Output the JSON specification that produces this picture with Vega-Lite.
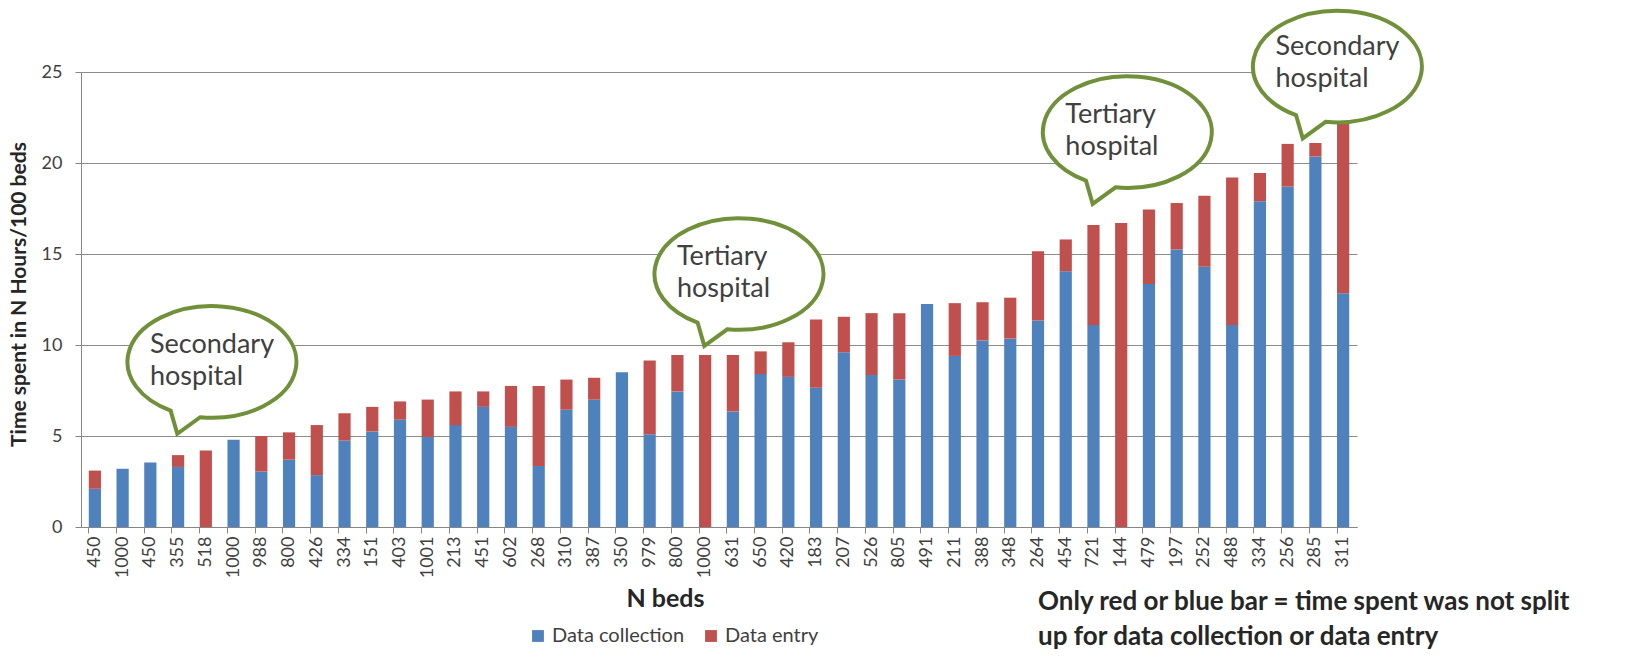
{
  "$schema": "https://vega.github.io/schema/vega-lite/v6.json",
  "width": 1276,
  "height": 455,
  "autosize": {"type": "none"},
  "padding": {"left": 81, "top": 72, "right": 268, "bottom": 130},
  "background": "white",
  "config": {
    "view": {"stroke": null},
    "font": "Lato",
    "legend": {"orient": "none", "legendX": 447, "legendY": 554, "direction": "horizontal", "labelFontSize": 20, "labelColor": "#404040", "symbolType": "square", "symbolSize": 140, "symbolStrokeWidth": 0, "columnPadding": 16, "labelFont": "Lato"}
  },
  "datasets": {
    "bars": [
      {"id": "01-450", "type": "Data collection", "hours": 2.1}, {"id": "01-450", "type": "Data entry", "hours": 1.0},
      {"id": "02-1000", "type": "Data collection", "hours": 3.2},
      {"id": "03-450", "type": "Data collection", "hours": 3.55},
      {"id": "04-355", "type": "Data collection", "hours": 3.3}, {"id": "04-355", "type": "Data entry", "hours": 0.65},
      {"id": "05-518", "type": "Data entry", "hours": 4.2},
      {"id": "06-1000", "type": "Data collection", "hours": 4.8},
      {"id": "07-988", "type": "Data collection", "hours": 3.05}, {"id": "07-988", "type": "Data entry", "hours": 1.95},
      {"id": "08-800", "type": "Data collection", "hours": 3.7}, {"id": "08-800", "type": "Data entry", "hours": 1.5},
      {"id": "09-426", "type": "Data collection", "hours": 2.85}, {"id": "09-426", "type": "Data entry", "hours": 2.75},
      {"id": "10-334", "type": "Data collection", "hours": 4.75}, {"id": "10-334", "type": "Data entry", "hours": 1.5},
      {"id": "11-151", "type": "Data collection", "hours": 5.25}, {"id": "11-151", "type": "Data entry", "hours": 1.35},
      {"id": "12-403", "type": "Data collection", "hours": 5.9}, {"id": "12-403", "type": "Data entry", "hours": 1.0},
      {"id": "13-1001", "type": "Data collection", "hours": 4.95}, {"id": "13-1001", "type": "Data entry", "hours": 2.05},
      {"id": "14-213", "type": "Data collection", "hours": 5.6}, {"id": "14-213", "type": "Data entry", "hours": 1.85},
      {"id": "15-451", "type": "Data collection", "hours": 6.6}, {"id": "15-451", "type": "Data entry", "hours": 0.85},
      {"id": "16-602", "type": "Data collection", "hours": 5.5}, {"id": "16-602", "type": "Data entry", "hours": 2.25},
      {"id": "17-268", "type": "Data collection", "hours": 3.35}, {"id": "17-268", "type": "Data entry", "hours": 4.4},
      {"id": "18-310", "type": "Data collection", "hours": 6.45}, {"id": "18-310", "type": "Data entry", "hours": 1.65},
      {"id": "19-387", "type": "Data collection", "hours": 7.0}, {"id": "19-387", "type": "Data entry", "hours": 1.2},
      {"id": "20-350", "type": "Data collection", "hours": 8.5},
      {"id": "21-979", "type": "Data collection", "hours": 5.1}, {"id": "21-979", "type": "Data entry", "hours": 4.05},
      {"id": "22-800", "type": "Data collection", "hours": 7.45}, {"id": "22-800", "type": "Data entry", "hours": 2.0},
      {"id": "23-1000", "type": "Data entry", "hours": 9.45},
      {"id": "24-631", "type": "Data collection", "hours": 6.35}, {"id": "24-631", "type": "Data entry", "hours": 3.1},
      {"id": "25-650", "type": "Data collection", "hours": 8.4}, {"id": "25-650", "type": "Data entry", "hours": 1.25},
      {"id": "26-420", "type": "Data collection", "hours": 8.25}, {"id": "26-420", "type": "Data entry", "hours": 1.9},
      {"id": "27-183", "type": "Data collection", "hours": 7.65}, {"id": "27-183", "type": "Data entry", "hours": 3.75},
      {"id": "28-207", "type": "Data collection", "hours": 9.6}, {"id": "28-207", "type": "Data entry", "hours": 1.95},
      {"id": "29-526", "type": "Data collection", "hours": 8.35}, {"id": "29-526", "type": "Data entry", "hours": 3.4},
      {"id": "30-805", "type": "Data collection", "hours": 8.1}, {"id": "30-805", "type": "Data entry", "hours": 3.65},
      {"id": "31-491", "type": "Data collection", "hours": 12.25},
      {"id": "32-211", "type": "Data collection", "hours": 9.4}, {"id": "32-211", "type": "Data entry", "hours": 2.9},
      {"id": "33-388", "type": "Data collection", "hours": 10.25}, {"id": "33-388", "type": "Data entry", "hours": 2.1},
      {"id": "34-348", "type": "Data collection", "hours": 10.35}, {"id": "34-348", "type": "Data entry", "hours": 2.25},
      {"id": "35-264", "type": "Data collection", "hours": 11.35}, {"id": "35-264", "type": "Data entry", "hours": 3.8},
      {"id": "36-454", "type": "Data collection", "hours": 14.05}, {"id": "36-454", "type": "Data entry", "hours": 1.75},
      {"id": "37-721", "type": "Data collection", "hours": 11.1}, {"id": "37-721", "type": "Data entry", "hours": 5.5},
      {"id": "38-144", "type": "Data entry", "hours": 16.7},
      {"id": "39-479", "type": "Data collection", "hours": 13.35}, {"id": "39-479", "type": "Data entry", "hours": 4.1},
      {"id": "40-197", "type": "Data collection", "hours": 15.25}, {"id": "40-197", "type": "Data entry", "hours": 2.55},
      {"id": "41-252", "type": "Data collection", "hours": 14.3}, {"id": "41-252", "type": "Data entry", "hours": 3.9},
      {"id": "42-488", "type": "Data collection", "hours": 11.1}, {"id": "42-488", "type": "Data entry", "hours": 8.1},
      {"id": "43-334", "type": "Data collection", "hours": 17.9}, {"id": "43-334", "type": "Data entry", "hours": 1.55},
      {"id": "44-256", "type": "Data collection", "hours": 18.7}, {"id": "44-256", "type": "Data entry", "hours": 2.35},
      {"id": "45-285", "type": "Data collection", "hours": 20.35}, {"id": "45-285", "type": "Data entry", "hours": 0.75},
      {"id": "46-311", "type": "Data collection", "hours": 12.85}, {"id": "46-311", "type": "Data entry", "hours": 9.7}
    ],
    "bubbles": [
      {"id": "05-518", "hours": 9.07, "label": "Secondary\nhospital"},
      {"id": "24-631", "hours": 13.9, "label": "Tertiary\nhospital"},
      {"id": "38-144", "hours": 21.7, "label": "Tertiary\nhospital"}
    ],
    "bubbles2": [
      {"id": "46-311", "hours": 25.3, "label": "Secondary\nhospital"}
    ],
    "note": [
      {"id": "35-264", "hours": -4.1, "label": "Only red or blue bar = time spent was not split\nup for data collection or data entry"}
    ]
  },
  "layer": [
    {
      "data": {"name": "bars"},
      "mark": {"type": "bar"},
      "encoding": {
        "x": {
          "field": "id", "type": "ordinal", "sort": "ascending",
          "scale": {"paddingInner": 0.56, "paddingOuter": 0.28},
          "axis": {
            "title": "N beds",
            "labelExpr": "split(datum.value, '-')[1]",
            "labelAngle": -90,
            "bandPosition": 0,
            "tickSize": 6,
            "labelPadding": 3,
            "labelFontSize": 18,
            "labelFont": "Lato",
            "labelColor": "#404040",
            "domainColor": "#868686",
            "tickColor": "#868686",
            "titleFontSize": 25,
            "titleFont": "Lato",
            "titleFontWeight": "bold",
            "titleColor": "#262626",
            "titleX": 584,
            "titleY": 59,
            "titleBaseline": "top",
            "grid": false
          }
        },
        "y": {
          "field": "hours", "type": "quantitative", "stack": "zero",
          "scale": {"domain": [0, 25], "nice": false},
          "axis": {
            "title": "Time spent in N Hours/100 beds",
            "values": [0, 5, 10, 15, 20, 25],
            "grid": true,
            "gridColor": "#8c8c8c",
            "domainColor": "#868686",
            "tickColor": "#868686",
            "tickSize": 6,
            "labelPadding": 13,
            "labelFontSize": 18,
            "labelFont": "Lato",
            "labelColor": "#404040",
            "titleFontSize": 21,
            "titleFont": "Lato",
            "titleFontWeight": "bold",
            "titleColor": "#262626",
            "titleX": -62,
            "titleY": 222,
            "titleAlign": "center",
            "titleBaseline": "middle"
          }
        },
        "color": {
          "field": "type", "type": "nominal",
          "scale": {"domain": ["Data collection", "Data entry"], "range": ["#4F81BD", "#C0504D"]},
          "title": null
        },
        "order": {"field": "type", "sort": "ascending"}
      }
    },
    {
      "data": {"name": "bubbles"},
      "encoding": {
        "x": {"field": "id", "type": "ordinal", "bandPosition": 1.0},
        "y": {"field": "hours", "type": "quantitative"}
      },
      "layer": [
        {"mark": {"type": "point", "shape": "M-0.139,0.654 C0.408,0.704 0.913,0.453 0.990,0.092 C1.067,-0.269 0.686,-0.603 0.139,-0.654 C-0.408,-0.704 -0.913,-0.453 -0.990,-0.092 C-1.048,0.177 -0.849,0.442 -0.489,0.576 L-0.41,0.85 Z", "size": 28561, "filled": true, "fill": "white", "stroke": "#71903A", "strokeWidth": 4, "opacity": 1}},
        {"mark": {"type": "text", "align": "left", "baseline": "middle", "dx": -62, "dy": -17, "fontSize": 27, "lineHeight": 32, "lineBreak": "\n", "font": "Lato", "color": "#404040"}, "encoding": {"text": {"field": "label"}}}
      ]
    },
    {
      "data": {"name": "bubbles2"},
      "encoding": {
        "x": {"field": "id", "type": "ordinal", "bandPosition": 0.03},
        "y": {"field": "hours", "type": "quantitative"}
      },
      "layer": [
        {"mark": {"type": "point", "shape": "M-0.139,0.654 C0.408,0.704 0.913,0.453 0.990,0.092 C1.067,-0.269 0.686,-0.603 0.139,-0.654 C-0.408,-0.704 -0.913,-0.453 -0.990,-0.092 C-1.048,0.177 -0.849,0.442 -0.489,0.576 L-0.41,0.85 Z", "size": 28561, "filled": true, "fill": "white", "stroke": "#71903A", "strokeWidth": 4, "opacity": 1}},
        {"mark": {"type": "text", "align": "left", "baseline": "middle", "dx": -62, "dy": -20, "fontSize": 27, "lineHeight": 32, "lineBreak": "\n", "font": "Lato", "color": "#404040"}, "encoding": {"text": {"field": "label"}}}
      ]
    },
    {
      "data": {"name": "note"},
      "mark": {"type": "text", "align": "left", "baseline": "middle", "fontSize": 26, "fontWeight": "bold", "lineHeight": 35, "lineBreak": "\n", "font": "Lato", "color": "#262626"},
      "encoding": {
        "x": {"field": "id", "type": "ordinal"},
        "y": {"field": "hours", "type": "quantitative"},
        "text": {"field": "label"}
      }
    }
  ]
}
